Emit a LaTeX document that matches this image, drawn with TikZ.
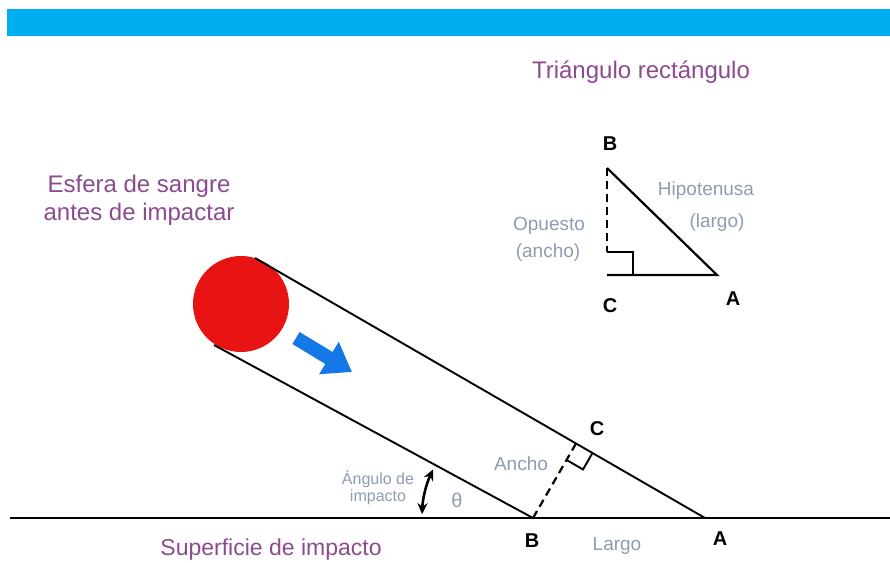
\documentclass[tikz,border=0pt]{standalone}
\usepackage{fontspec}
\setmainfont{Liberation Sans}
\usetikzlibrary{arrows.meta, calc}
\definecolor{cBar}{HTML}{00AEEF}
\definecolor{cTitle}{HTML}{8A4B8F}
\definecolor{cNote}{HTML}{8E9BB0}
\definecolor{cDrop}{HTML}{E81414}
\definecolor{cFlow}{HTML}{1478E6}

\begin{document}
\begin{tikzpicture}[
  x=1pt, y=-1pt,
  title/.style={text=cTitle, font=\fontsize{24}{28}\selectfont, inner sep=0pt, align=center},
  note/.style={text=cNote, font=\fontsize{19}{27}\selectfont, inner sep=0pt, align=center},
  tiny/.style={text=cNote, font=\fontsize{16}{17}\selectfont, inner sep=0pt, align=center},
  vtx/.style={font=\fontsize{20}{20}\selectfont\bfseries, inner sep=0pt},
  edge/.style={line width=1.9pt, draw=black},
  tri/.style={line width=2.2pt, draw=black},
  dashedge/.style={line width=2.2pt, draw=black, dash pattern=on 8pt off 5pt},
]
\useasboundingbox (0,0) rectangle (890,562);

% =========================== banner ===========================
\fill[cBar] (7,9) rectangle (890,36);

% =========================== drop + trajectory ===========================
\node[circle, fill=cDrop, minimum size=96pt, inner sep=0pt] (drop) at (241,304) {};
\coordinate (U) at (255,258);
\coordinate (L) at (214,345);
\coordinate (A) at (705,518);
\coordinate (B) at (533,518);
\coordinate (C) at ($(U)!(B)!(A)$);
\coordinate (g0) at (10,518);
\coordinate (g1) at (890,518);

\draw[edge] (U) -- (A);
\draw[edge] (L) -- (B);
\draw[edge, line width=2.2pt] (g0) -- (g1);
\draw[dashedge] (B) -- (C);
\draw[edge] ($(C)!19pt!(B)$) -- ($(C)!19pt!(B) + (C)!19pt!(A) - (C)$) -- ($(C)!19pt!(A)$);

% direction of flight
\draw[cFlow, line width=14pt, -{Triangle[length=27pt, width=36pt]}] (296,338) -- (352,372);

% impact angle
\draw[line width=2.6pt, {Stealth[length=11pt, width=10pt]}-{Stealth[length=11pt, width=10pt]}]
  ($(B)+(206:111)$) arc[start angle=206, end angle=182, radius=111];

\node[title] (esfera) at (139,200) {Esfera de sangre\\antes de impactar};
\node[title, anchor=base, font=\fontsize{23}{26}\selectfont] (sup) at (271,555) {Superficie de impacto};
\node[tiny] (ang) at (378,488) {Ángulo de\\impacto};
\node[note, anchor=base, font=\fontsize{20}{20}\selectfont] (theta) at (457,507) {θ};
\node[note, anchor=base] (ancho) at (521,470) {Ancho};
\node[note, anchor=base] (largo) at (617,550) {Largo};
\node[vtx, anchor=base] (lC) at (597,435) {C};
\node[vtx, anchor=base] (lB) at (532,547) {B};
\node[vtx, anchor=base] (lA) at (720,545) {A};

% =========================== right triangle ===========================
\node[title, anchor=base] (tri) at (641,78) {Triángulo rectángulo};
\coordinate (tB) at (607,168);
\coordinate (tC) at (607,275);
\coordinate (tA) at (717,275);
\draw[tri] (tB) -- (tA) -- (tC);
\draw[dashedge] (tB) -- ($(tC)+(0,-23)$);
\draw[tri] ($(tC)+(0,-23)$) -- ++(26,0) |- (tC);

\node[vtx, anchor=base] (tlB) at (610,150) {B};
\node[vtx, anchor=base] (tlC) at (610,312) {C};
\node[vtx, anchor=base] (tlA) at (733,305) {A};
\node[note, anchor=base] (hipo) at (706,195) {Hipotenusa};
\node[note, anchor=base] (hipo2) at (717,227) {(largo)};
\node[note, anchor=base] (opu) at (549,230) {Opuesto};
\node[note, anchor=base] (opu2) at (548,257) {(ancho)};

\end{tikzpicture}
\end{document}
